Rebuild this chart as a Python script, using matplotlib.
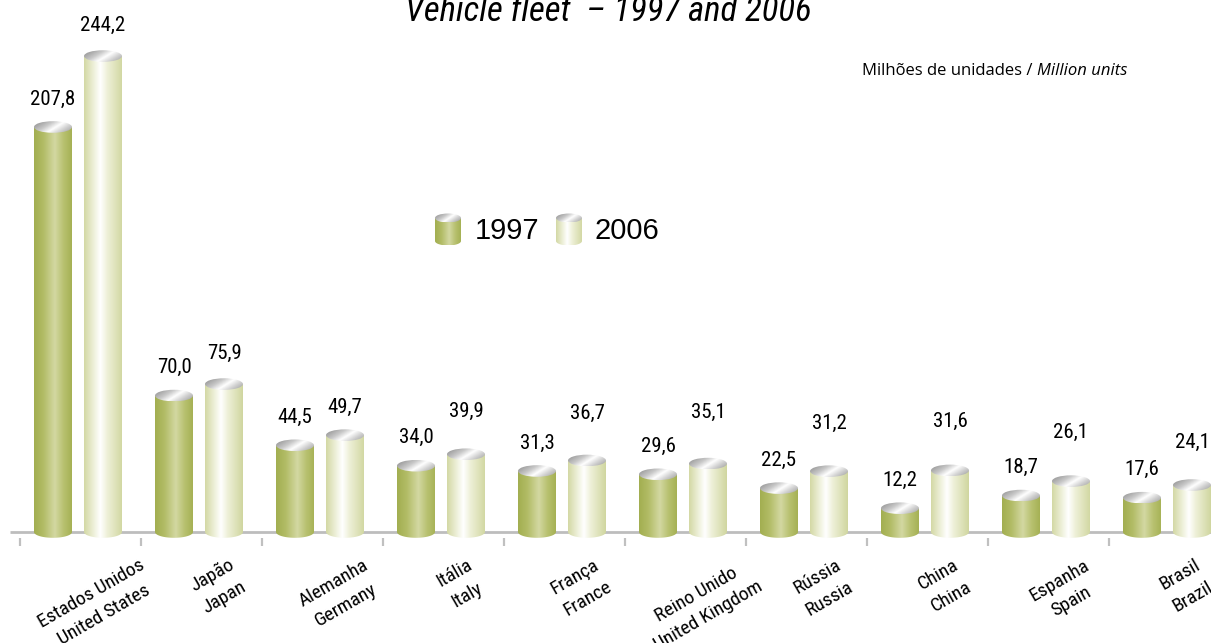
import numpy as np
import matplotlib
matplotlib.use("Agg")
import matplotlib.pyplot as plt
from matplotlib.colors import LinearSegmentedColormap
from matplotlib.patches import Ellipse, PathPatch
from matplotlib.path import Path
from matplotlib import font_manager

# ---------------- data ----------------
categories_pt = ["Estados Unidos", "Japão", "Alemanha", "Itália", "França",
                 "Reino Unido", "Rússia", "China", "Espanha", "Brasil"]
categories_en = ["United States", "Japan", "Germany", "Italy", "France",
                 "United Kingdom", "Russia", "China", "Spain", "Brazil"]
values_1997 = [207.8, 70.0, 44.5, 34.0, 31.3, 29.6, 22.5, 12.2, 18.7, 17.6]
values_2006 = [244.2, 75.9, 49.7, 39.9, 36.7, 35.1, 31.2, 31.6, 26.1, 24.1]
series_names = ["1997", "2006"]
title = "Vehicle fleet  \u2013 1997 and 2006"
unit_pt = "Milhões de unidades / "
unit_en = "Million units"
# label lift above bar top (pixels), as in the reference layout
label_lift_1997_px = 28
label_lift_2006_px = [31, 31, 28, 43, 47, 51, 48, 49, 49, 43]

# ---------------- fonts ----------------
avail = {f.name for f in font_manager.fontManager.ttflist}
def pick(cands, default="DejaVu Sans"):
    for c in cands:
        if c in avail:
            return c
    return default
NARROW = pick(["Liberation Sans Narrow", "Roboto Condensed", "Open Sans Condensed"])
NARROW_STRETCH = "normal" if NARROW != "DejaVu Sans" else "condensed"
REG = pick(["Liberation Sans", "Open Sans"])
UNITF = pick(["Open Sans", "Liberation Sans"])

# ---------------- layout (pixel geometry) ----------------
W, H = 1211, 643
X0_PX, Y0_PX = 20.0, 532.0      # first group boundary / zero line in pixels
UX, UY = 121.0, 1.949           # px per category, px per million units
OFF1, OFF2, BW = 33 / UX, 83 / UX, 38 / UX
HH = 5.8 / UY                   # ellipse half height in data units

fig = plt.figure(figsize=(W / 100, H / 100), dpi=100)
ax = fig.add_axes([0, 0, 1, 1])
ax.axis("off")

def to_data(xp, yp):
    return ((xp - X0_PX) / UX, (Y0_PX - yp) / UY)

cmap97 = LinearSegmentedColormap.from_list("c97", [
    (0.0, "#a2ae50"), (0.25, "#b2bc66"), (0.55, "#d3d8a2"),
    (0.78, "#b8c170"), (1.0, "#a5b154")])
cmap06 = LinearSegmentedColormap.from_list("c06", [
    (0.0, "#d3d8a4"), (0.28, "#f1f3e0"), (0.42, "#ffffff"),
    (0.6, "#eef0d8"), (1.0, "#d0d69f")])
cmapmetal = LinearSegmentedColormap.from_list("metal", [
    (0.0, "#8a8a8a"), (0.35, "#c8c8c8"), (0.55, "#ffffff"),
    (0.75, "#d0d0d0"), (1.0, "#9c9c9c")])

hgrad = np.linspace(0, 1, 256)[None, :]
xx, yy = np.meshgrid(np.linspace(0, 1, 64), np.linspace(0, 1, 32))
metal = cmapmetal((xx * 0.8 + (1 - yy) * 0.4) / 1.2)[..., :3]


def cylinder(xc, w, base, top, hh, cmap, z=3):
    x0, x1 = xc - w / 2, xc + w / 2
    th = np.linspace(np.pi, 2 * np.pi, 60)
    verts = [(x0, top), (x0, base)]
    verts += list(zip(xc + w / 2 * np.cos(th), base + hh * np.sin(th)))
    verts += [(x1, top), (x0, top)]
    codes = [Path.MOVETO] + [Path.LINETO] * (len(verts) - 2) + [Path.CLOSEPOLY]
    body = PathPatch(Path(verts, codes), fc="none", ec="none", zorder=z)
    ax.add_patch(body)
    im = ax.imshow(cmap(hgrad)[..., :3], extent=[x0, x1, base - hh, top],
                   aspect="auto", interpolation="bilinear", origin="lower",
                   zorder=z)
    im.set_clip_path(body)
    cap = Ellipse((xc, top), w, 2 * hh, fc="none", ec="none", zorder=z + 0.5)
    ax.add_patch(cap)
    im2 = ax.imshow(metal, extent=[x0, x1, top - hh, top + hh], aspect="auto",
                    interpolation="bilinear", origin="lower", zorder=z + 0.5)
    im2.set_clip_path(cap)


def fmt(v):
    return f"{v:.1f}".replace(".", ",")

n = len(categories_pt)
idx = np.arange(n)

for i in idx:
    v1, v2 = values_1997[i], values_2006[i]
    c1, c2 = i + OFF1, i + OFF2
    cylinder(c1, BW, 0, v1, HH, cmap97)
    cylinder(c2, BW, 0, v2, HH, cmap06)
    ax.annotate(fmt(v1), xy=(c1, v1), xytext=(0, label_lift_1997_px * 0.72),
                textcoords="offset points", ha="center", va="center",
                fontsize=15, family=NARROW, stretch=NARROW_STRETCH, zorder=6)
    ax.annotate(fmt(v2), xy=(c2, v2), xytext=(0, label_lift_2006_px[i] * 0.72),
                textcoords="offset points", ha="center", va="center",
                fontsize=15, family=NARROW, stretch=NARROW_STRETCH, zorder=6)
    ax.annotate(f"{categories_pt[i]}\n{categories_en[i]}", xy=(i + 0.5, 0),
                xytext=(17 * 0.72, -(556 - Y0_PX) * 0.72),
                textcoords="offset points", rotation=30, ha="center", va="top",
                multialignment="center", linespacing=1.5, fontsize=14,
                family=NARROW, stretch=NARROW_STRETCH)

# axis line and boundary ticks
xl, _ = to_data(10, 0)
xr, _ = to_data(W + 5, 0)
ax.plot([xl, xr], [0, 0], color="#bdbdbd", lw=2.0, zorder=1,
        solid_capstyle="butt")
_, yt0 = to_data(0, 538)
_, yt1 = to_data(0, 546)
ax.vlines(np.arange(n + 1), yt1, yt0, color="#c0c0c0", lw=1.6, zorder=1)

# legend
for k, (cm, xp, tx) in enumerate([(cmap97, 448, 475), (cmap06, 569, 595)]):
    lx, ltop = to_data(xp, 218)
    _, lbase = to_data(0, 241)
    cylinder(lx, 26 / UX, lbase, ltop, 4.5 / UY, cm, z=5)
    tx_d, ty_d = to_data(tx, 231)
    ax.text(tx_d, ty_d, series_names[k], ha="left", va="center", fontsize=21,
            family=REG)

# title and units
tdx, tdy = to_data(608, 21)
ax.text(tdx, tdy, title, ha="center", va="baseline", fontsize=25,
        style="italic", family=NARROW, stretch=NARROW_STRETCH)
ux, uy = to_data(862, 75)
t1 = ax.text(ux, uy, unit_pt, ha="left", va="baseline", fontsize=12,
             family=UNITF)
ax.annotate(unit_en, xy=(1, 0), xycoords=t1, ha="left", va="bottom",
            fontsize=12, style="italic", family=UNITF)

ax.set_xlim(-X0_PX / UX, (W - X0_PX) / UX)
ax.set_ylim(-(H - Y0_PX) / UY, Y0_PX / UY)

fig.savefig("out.png", dpi=100)
